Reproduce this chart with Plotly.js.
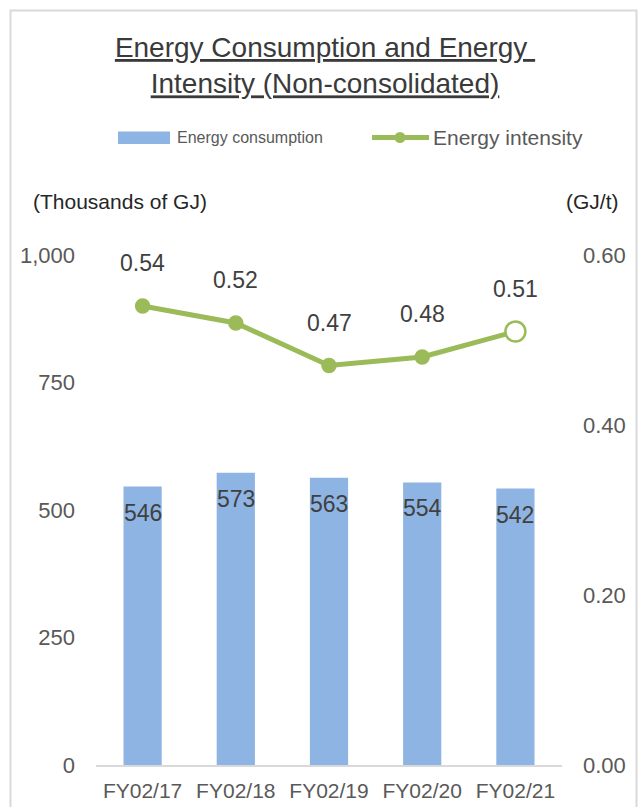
<!DOCTYPE html>
<html>
<head>
<meta charset="utf-8">
<script src="https://cdn.plot.ly/plotly-3.0.1.min.js"></script>
<style>
  html, body { margin: 0; padding: 0; background: #ffffff; }
  #chart { width: 640px; height: 807px; }
</style>
</head>
<body>
<div id="chart"></div>
<script>
// Fiscal years shown on the category axis
const fiscalYears = ['FY02/17', 'FY02/18', 'FY02/19', 'FY02/20', 'FY02/21'];
// Energy consumption, thousands of GJ (bars, left axis)
const energyConsumption = [546, 573, 563, 554, 542];
// Energy intensity, GJ/t (line, right axis)
const energyIntensity = [0.54, 0.52, 0.47, 0.48, 0.51];
// Series names for the legend
const seriesNames = ['Energy consumption', 'Energy intensity'];
// Axis tick values
const leftTicks = [0, 250, 500, 750, 1000];
const rightTicks = [0, 0.2, 0.4, 0.6];

const FONT = 'Liberation Sans, Arial, Helvetica, sans-serif';
const BAR_COLOR = '#8EB4E3';
const LINE_COLOR = '#9BBB59';
const TEXT_DARK = '#404040';
const TEXT_MID = '#595959';

// Plot-area geometry in pixels, used to place decorations in paper units
const W = 640, H = 807;
const M = { l: 96, r: 78, t: 255, b: 42 };
const PW = W - M.l - M.r, PH = H - M.t - M.b;
const px = x => (x - M.l) / PW;
const py = y => (H - M.b - y) / PH;

const last = energyIntensity.length - 1;

const bars = {
  type: 'bar',
  name: seriesNames[0],
  x: fiscalYears,
  y: energyConsumption,
  marker: { color: BAR_COLOR },
  hoverinfo: 'x+y',
  showlegend: false
};

// Latest year is drawn as a hollow marker
const line = {
  type: 'scatter',
  mode: 'lines+markers',
  name: seriesNames[1],
  x: fiscalYears,
  y: energyIntensity,
  yaxis: 'y2',
  line: { color: LINE_COLOR, width: 5 },
  marker: {
    opacity: 1,
    color: energyIntensity.map((v, i) => i === last ? '#FFFFFF' : LINE_COLOR),
    size: energyIntensity.map((v, i) => i === last ? 20 : 13),
    line: { color: LINE_COLOR, width: 2.5 }
  },
  cliponaxis: false,
  showlegend: false
};

// Value labels: inside the top of each bar and above each line point
const annotations = [];
fiscalYears.forEach((cat, i) => {
  annotations.push({
    x: cat, y: energyConsumption[i], xref: 'x', yref: 'y',
    text: String(energyConsumption[i]),
    showarrow: false, yanchor: 'middle', yshift: -26,
    font: { family: FONT, size: 23, color: TEXT_DARK }
  });
  annotations.push({
    x: cat, y: energyIntensity[i], xref: 'x', yref: 'y2',
    text: energyIntensity[i].toFixed(2),
    showarrow: false, yanchor: 'middle', yshift: 43,
    font: { family: FONT, size: 23, color: TEXT_DARK }
  });
});

// Unit captions above each value axis
annotations.push({
  xref: 'paper', yref: 'paper', x: px(31), y: py(202),
  xanchor: 'left', yanchor: 'middle', showarrow: false,
  text: '(Thousands of GJ)',
  font: { family: FONT, size: 21, color: '#262626' }
});
annotations.push({
  xref: 'paper', yref: 'paper', x: px(621), y: py(202),
  xanchor: 'right', yanchor: 'middle', showarrow: false,
  text: '(GJ/t)',
  font: { family: FONT, size: 21, color: '#262626' }
});

// Legend text
annotations.push({
  xref: 'paper', yref: 'paper', x: px(175), y: py(137.5),
  xanchor: 'left', yanchor: 'middle', showarrow: false,
  text: seriesNames[0],
  font: { family: FONT, size: 16, color: TEXT_MID }
});
annotations.push({
  xref: 'paper', yref: 'paper', x: px(431), y: py(137.5),
  xanchor: 'left', yanchor: 'middle', showarrow: false,
  text: seriesNames[1],
  font: { family: FONT, size: 21, color: TEXT_MID }
});

const shapes = [
  // outer chart frame
  {
    type: 'rect', xref: 'paper', yref: 'paper',
    x0: px(10.5), x1: px(636.5), y0: py(840), y1: py(10.5),
    line: { color: '#D9D9D9', width: 2 }, fillcolor: 'rgba(0,0,0,0)', layer: 'below'
  },
  // legend key: bar swatch
  {
    type: 'rect', xref: 'paper', yref: 'paper',
    x0: px(118), x1: px(170), y0: py(144), y1: py(131.5),
    line: { width: 0 }, fillcolor: BAR_COLOR
  },
  // legend key: line with marker
  {
    type: 'line', xref: 'paper', yref: 'paper',
    x0: px(372), x1: px(429), y0: py(137.5), y1: py(137.5),
    line: { color: LINE_COLOR, width: 5 }
  },
  {
    type: 'circle', xref: 'paper', yref: 'paper',
    x0: px(394.5), x1: px(405.5), y0: py(143), y1: py(132),
    line: { width: 0 }, fillcolor: LINE_COLOR
  }
];

const layout = {
  width: W, height: H,
  margin: M,
  paper_bgcolor: '#FFFFFF',
  plot_bgcolor: '#FFFFFF',
  font: { family: FONT, color: TEXT_MID },
  title: {
    text: '<span style="text-decoration:underline">Energy Consumption and Energy\u00a0</span><br>' +
          '<span style="text-decoration:underline">Intensity (Non-consolidated)</span>',
    font: { family: FONT, size: 28, color: '#3A3A3A' },
    xref: 'container', yref: 'container',
    x: 325 / W, xanchor: 'center',
    y: 1 - 57 / H, yanchor: 'top'
  },
  bargap: 0.59,
  showlegend: false,
  xaxis: {
    type: 'category',
    showgrid: false, zeroline: false,
    showline: true, linecolor: '#D9D9D9', linewidth: 1.5,
    ticks: '', ticklabelstandoff: 6,
    tickfont: { family: FONT, size: 21, color: TEXT_MID },
    fixedrange: true
  },
  yaxis: {
    range: [0, 1000],
    tickvals: leftTicks,
    tickformat: ',',
    showgrid: false, zeroline: false, showline: false,
    ticks: '', ticklabelstandoff: 20,
    tickfont: { family: FONT, size: 22, color: TEXT_MID },
    fixedrange: true
  },
  yaxis2: {
    range: [0, 0.6],
    tickvals: rightTicks,
    tickformat: '.2f',
    overlaying: 'y', side: 'right',
    showgrid: false, zeroline: false, showline: false,
    ticks: '', ticklabelstandoff: 20,
    tickfont: { family: FONT, size: 22, color: TEXT_MID },
    fixedrange: true
  },
  annotations: annotations,
  shapes: shapes
};

Plotly.newPlot('chart', [bars, line], layout, { displayModeBar: false, staticPlot: true });
</script>
</body>
</html>
